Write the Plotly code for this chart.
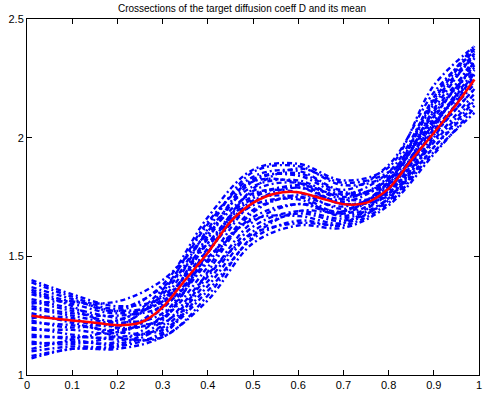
import plotly.graph_objects as go

# Mean cross-section (red)
x_mean = [0.01, 0.05, 0.1, 0.15, 0.2, 0.25, 0.3, 0.35, 0.4, 0.45, 0.5,
          0.55, 0.6, 0.65, 0.7, 0.75, 0.8, 0.85, 0.9, 0.95, 0.99]
y_mean = [1.25, 1.24, 1.23, 1.22, 1.21, 1.22, 1.285, 1.40, 1.515, 1.645, 1.725,
          1.765, 1.77, 1.745, 1.72, 1.725, 1.785, 1.905, 2.02, 2.14, 2.245]

# Individual cross-sections (blue, dash-dot)
x_cs = [0.01, 0.1, 0.2, 0.3, 0.4, 0.5, 0.6, 0.7, 0.8, 0.9, 0.99]
cs01 = [1.40, 1.34, 1.29, 1.33, 1.615, 1.855, 1.88, 1.80, 1.845, 2.14, 2.345]
cs02 = [1.37, 1.32, 1.27, 1.38, 1.665, 1.865, 1.89, 1.82, 1.875, 2.22, 2.385]
cs03 = [1.34, 1.30, 1.26, 1.31, 1.575, 1.815, 1.85, 1.77, 1.805, 2.06, 2.255]
cs04 = [1.31, 1.27, 1.23, 1.36, 1.635, 1.835, 1.86, 1.78, 1.885, 2.19, 2.365]
cs05 = [1.28, 1.25, 1.22, 1.26, 1.535, 1.775, 1.81, 1.74, 1.765, 1.98, 2.165]
cs06 = [1.25, 1.23, 1.21, 1.34, 1.605, 1.795, 1.82, 1.75, 1.825, 2.10, 2.295]
cs07 = [1.22, 1.21, 1.19, 1.24, 1.455, 1.695, 1.75, 1.71, 1.795, 2.08, 2.335]
cs08 = [1.19, 1.19, 1.18, 1.30, 1.555, 1.755, 1.79, 1.72, 1.755, 1.96, 2.135]
cs09 = [1.16, 1.16, 1.16, 1.20, 1.395, 1.625, 1.69, 1.66, 1.745, 2.00, 2.275]
cs10 = [1.13, 1.14, 1.14, 1.25, 1.475, 1.665, 1.72, 1.68, 1.815, 2.11, 2.315]
cs11 = [1.10, 1.12, 1.12, 1.18, 1.355, 1.575, 1.65, 1.63, 1.725, 1.94, 2.105]
cs12 = [1.07, 1.11, 1.11, 1.16, 1.315, 1.555, 1.63, 1.62, 1.715, 1.93, 2.125]
cs13 = [1.39, 1.33, 1.28, 1.37, 1.555, 1.745, 1.80, 1.76, 1.855, 2.16, 2.375]
cs14 = [1.36, 1.31, 1.31, 1.40, 1.595, 1.765, 1.77, 1.70, 1.785, 2.05, 2.285]
cs15 = [1.32, 1.28, 1.24, 1.22, 1.415, 1.645, 1.72, 1.69, 1.805, 2.12, 2.355]
cs16 = [1.29, 1.26, 1.25, 1.29, 1.485, 1.725, 1.79, 1.73, 1.825, 2.09, 2.305]
cs17 = [1.26, 1.22, 1.18, 1.19, 1.375, 1.605, 1.68, 1.65, 1.735, 1.96, 2.155]
cs18 = [1.23, 1.20, 1.23, 1.32, 1.525, 1.715, 1.74, 1.67, 1.765, 2.03, 2.225]
cs19 = [1.20, 1.17, 1.15, 1.17, 1.435, 1.685, 1.76, 1.74, 1.835, 2.15, 2.355]
cs20 = [1.17, 1.15, 1.13, 1.23, 1.515, 1.785, 1.87, 1.81, 1.855, 2.07, 2.265]
cs21 = [1.14, 1.13, 1.17, 1.28, 1.495, 1.655, 1.67, 1.64, 1.745, 2.01, 2.205]
cs22 = [1.11, 1.15, 1.20, 1.35, 1.645, 1.815, 1.81, 1.72, 1.775, 1.99, 2.185]
cs23 = [1.08, 1.11, 1.12, 1.21, 1.425, 1.595, 1.64, 1.64, 1.785, 2.06, 2.235]
cs24 = [1.35, 1.29, 1.20, 1.24, 1.515, 1.735, 1.75, 1.68, 1.775, 2.04, 2.325]
cs25 = [1.30, 1.31, 1.27, 1.31, 1.585, 1.825, 1.84, 1.76, 1.805, 2.02, 2.205]
cs26 = [1.24, 1.24, 1.16, 1.16, 1.335, 1.585, 1.69, 1.69, 1.815, 2.17, 2.385]
cross_sections = [cs01, cs02, cs03, cs04, cs05, cs06, cs07, cs08, cs09, cs10, cs11, cs12, cs13,
                  cs14, cs15, cs16, cs17, cs18, cs19, cs20, cs21, cs22, cs23, cs24, cs25, cs26]

x_ticks = [0, 0.1, 0.2, 0.3, 0.4, 0.5, 0.6, 0.7, 0.8, 0.9, 1]
x_ticktext = ["0", "0.1", "0.2", "0.3", "0.4", "0.5", "0.6", "0.7", "0.8", "0.9", "1"]
y_ticks = [1, 1.5, 2, 2.5]
y_ticktext = ["1", "1.5", "2", "2.5"]
title_text = "Crossections of the target diffusion coeff D and its mean"

fig = go.Figure()
for ys in cross_sections:
    fig.add_trace(go.Scatter(
        x=x_cs, y=ys, mode="lines",
        line=dict(color="#0000FF", width=2.4, dash="5px,3px,2px,3px",
                  shape="spline", smoothing=1.0),
        hoverinfo="skip", showlegend=False))

fig.add_trace(go.Scatter(
    x=x_mean, y=y_mean, mode="lines",
    line=dict(color="#FF0000", width=2.5, shape="spline", smoothing=0.8),
    showlegend=False))

axis_common = dict(showline=True, linecolor="black", linewidth=1, mirror="ticks",
                   ticks="inside", ticklen=5, tickcolor="black", showgrid=False,
                   zeroline=False, ticklabeloverflow="allow",
                   tickfont=dict(family="Liberation Sans, Arial", size=11, color="black"))

fig.update_layout(
    width=484, height=393,
    margin=dict(l=27, r=2, t=19, b=15),
    paper_bgcolor="white", plot_bgcolor="white",
    title=dict(text=title_text, x=0.5, xanchor="center", y=1 - 8 / 393, yanchor="middle",
               font=dict(family="Liberation Sans, Arial", size=10, color="black")),
    xaxis=dict(range=[0, 1], tickvals=x_ticks, ticktext=x_ticktext, **axis_common),
    yaxis=dict(range=[1, 2.5], tickvals=y_ticks, ticktext=y_ticktext, **axis_common),
)

fig.write_html("out.html", config={"displayModeBar": False},
               post_script="document.body.style.margin='0';document.body.style.overflow='hidden';")
